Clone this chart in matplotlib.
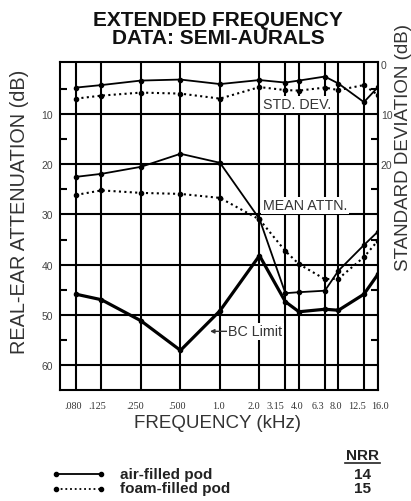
import matplotlib
matplotlib.use('Agg')
import matplotlib.pyplot as plt
from matplotlib.lines import Line2D

plt.rcParams['font.family'] = ['Liberation Sans', 'DejaVu Sans']

# frequencies (kHz) and the printed labels under the chart
freq = [0.08, 0.125, 0.25, 0.5, 1.0, 2.0, 3.15, 4.0, 6.3, 8.0, 12.5, 16.0]
freq_labels = ['.080', '.125', '.250', '.500', '1.0', '2.0', '3.15', '4.0',
               '6.3', '8.0', '12.5', '16.0']

# standard deviation (dB)
sd_air = [4.7, 4.2, 3.3, 3.1, 4.0, 3.2, 3.7, 3.3, 2.5, 3.9, 7.6, 4.6]
sd_foam = [6.9, 6.3, 5.7, 5.9, 6.9, 4.6, 5.2, 5.3, 4.7, 5.2, 4.2, 6.2]
# mean attenuation (dB)
mean_air = [22.5, 21.9, 20.5, 17.9, 19.7, 30.9, 45.7, 45.5, 45.2, 41.2, 36.1, 33.4]
mean_foam = [26.1, 25.2, 25.7, 25.9, 26.7, 31.0, 37.3, 39.9, 42.9, 42.8, 38.5, 35.2]
# bone conduction limit (dB)
bc_limit = [45.9, 47.0, 51.2, 57.1, 49.2, 38.2, 47.4, 49.4, 48.9, 49.1, 45.9, 41.9]

legend_names = ['air-filled pod', 'foam-filled pod']
nrr_values = ['14', '15']

W, H = 411, 502
fig = plt.figure(figsize=(W / 100, H / 100), dpi=100)
ax = fig.add_axes([60 / W, 1 - 391 / H, 318 / W, 328 / H])

ax.set_xscale('log')
ax.set_xlim(0.0604, 16.0)
ax.set_ylim(65, -0.4)

# grid
for f in freq:
    ax.axvline(f, color='black', lw=1.5, zorder=1)
for yv in range(10, 70, 10):
    ax.axhline(yv, color='black', lw=1.5, zorder=1)
for s in ax.spines.values():
    s.set_linewidth(1.5)

dot = (0, (1, 1.6))
ax.plot(freq, sd_air, color='black', lw=1.3, marker='o', ms=3, zorder=3)
ax.plot(freq, sd_foam, color='black', lw=1.5, ls=dot, marker='o', ms=3, zorder=3)
ax.plot(freq, mean_air, color='black', lw=1.3, marker='o', ms=3, zorder=3)
ax.plot(freq, mean_foam, color='black', lw=1.5, ls=dot, marker='o', ms=3, zorder=3)
ax.plot(freq, bc_limit, color='black', lw=2.3, marker='o', ms=3, zorder=3)

# left axis ticks
ax.set_yticks(range(10, 70, 10))
ax.set_yticklabels([str(v) for v in range(10, 70, 10)], fontsize=7.5, color='#444')
ax.set_yticks(range(5, 65, 10), minor=True)
ax.tick_params(axis='y', which='major', length=0, pad=5)
ax.tick_params(axis='y', which='minor', direction='in', length=5, width=1.5)
ax.set_xticks([])
ax.set_xticks([], minor=True)

# right axis
ax2 = ax.twinx()
ax2.set_ylim(65, -0.4)
ax2.set_yticks([0, 10, 20])
ax2.set_yticklabels(['0', '10', '20'], fontsize=7.5, color='#444')
ax2.set_yticks(range(5, 65, 10), minor=True)
ax2.tick_params(axis='y', which='major', length=0, pad=2)
ax2.tick_params(axis='y', which='minor', direction='in', length=5, width=1.5)
for s in ax2.spines.values():
    s.set_visible(False)

# annotations
box = dict(facecolor='white', edgecolor='none', pad=1)
ax.text(2.14, 8.0, 'STD. DEV.', fontsize=10.3, color='#333', va='center', ha='left',
        bbox=box, zorder=4)
ax.text(2.12, 28.2, 'MEAN ATTN.', fontsize=10.3, color='#333', va='center', ha='left',
        bbox=box, zorder=4)
ax.annotate('BC Limit', xy=(0.84, 53.3), xytext=(1.16, 53.3), fontsize=10.3, color='#333',
            va='center', ha='left', bbox=box, zorder=4,
            arrowprops=dict(arrowstyle='-|>', color='#333', lw=1, mutation_scale=6,
                            shrinkA=0, shrinkB=0))

# frequency labels
label_px = [73, 97.5, 135, 177.5, 218, 254, 275.5, 296.7, 318, 336, 357, 380]
for lbl, px in zip(freq_labels, label_px):
    fig.text(px / W, 1 - 407 / H, lbl, family='Liberation Serif', fontsize=7.3,
             color='#333', ha='center', va='center')

fig.text(217 / W, 1 - 423 / H, 'FREQUENCY (kHz)', fontsize=13.5, color='#333',
         ha='center', va='center')
fig.text(20 / W, 1 - 212 / H, 'REAL-EAR ATTENUATION (dB)', fontsize=14.3, color='#333',
         rotation=90, ha='center', va='center')
fig.text(403 / W, 1 - 148 / H, 'STANDARD DEVIATION (dB)', fontsize=13.5, color='#333',
         rotation=90, ha='center', va='center')

# title
fig.text(218 / W, 1 - 20 / H, 'EXTENDED FREQUENCY', fontsize=15, weight='bold',
         color='#111', ha='center', va='center')
fig.text(218 / W, 1 - 39 / H, 'DATA: SEMI-AURALS', fontsize=15, weight='bold',
         color='#111', ha='center', va='center')

# legend block
fig.text(362 / W, 1 - 456 / H, 'NRR', fontsize=11, weight='bold', color='#222',
         ha='center', va='center')
fig.add_artist(Line2D([345 / W, 380 / W], [1 - 464 / H, 1 - 464 / H], color='#222', lw=1.2))
for i, (name, nrr) in enumerate(zip(legend_names, nrr_values)):
    yy = 1 - (475 + 14.5 * i) / H
    style = '-' if i == 0 else dot
    fig.add_artist(Line2D([56 / W, 101 / W], [yy, yy], color='black', lw=1.3, ls=style,
                          marker='o', ms=3, markevery=[0, 1]))
    fig.text(120 / W, yy, name, fontsize=11, weight='bold', color='#222',
             ha='left', va='center')
    fig.text(362 / W, yy, nrr, fontsize=11, weight='bold', color='#222',
             ha='center', va='center')

fig.savefig('out.png', dpi=100)
